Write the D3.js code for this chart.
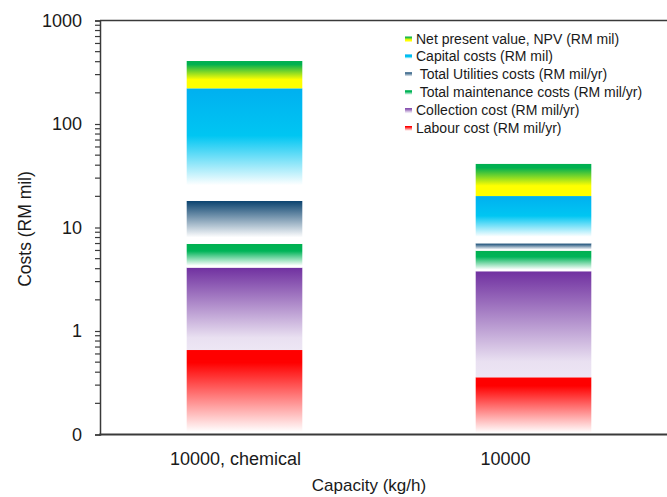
<!DOCTYPE html>
<html>
<head>
<meta charset="utf-8">
<script src="https://cdn.jsdelivr.net/npm/d3@7"></script>
<style>
  html, body { margin: 0; padding: 0; background: #fff; }
  svg text { font-family: "Liberation Sans", Arial, sans-serif; fill: #1a1a1a; }
  .legend text { white-space: pre; }
</style>
</head>
<body>
<svg id="chart" width="667" height="497"></svg>
<script>
// Capacity categories (kg/h)
const categories = ["10000, chemical", "10000"];

// Cost components per category (RM mil, RM mil/yr)
const labourCost      = [0.655, 0.357];
const collectionCost  = [3.44, 3.42];
const maintenanceCost = [2.85, 2.19];
const utilitiesCost   = [11.1, 1.06];
const capitalCost     = [203, 13.1];
const npvValue        = [185, 21];

const seriesKeys = ["labour", "collection", "maintenance", "utilities", "capital", "npv"];
const seriesNames = [
  "Labour cost (RM mil/yr)",
  "Collection cost (RM mil/yr)",
  " Total maintenance costs (RM mil/yr)",
  " Total Utilities costs (RM mil/yr)",
  "Capital costs (RM mil)",
  "Net present value, NPV (RM mil)"
];

// Y axis ticks (log decades)
const yTicks = [0.1, 1, 10, 100, 1000];

const rows = categories.map((c, i) => ({
  category: c,
  labour: labourCost[i],
  collection: collectionCost[i],
  maintenance: maintenanceCost[i],
  utilities: utilitiesCost[i],
  capital: capitalCost[i],
  npv: npvValue[i]
}));

// Fill gradients: saturated at the top of each segment, fading downwards
const gradients = {
  labour:      [[0, "#ff0000"], [0.15, "#ff0000"], [0.97, "#ffffff"]],
  collection:  [[0, "#7030a0"], [0.85, "#e9e0f1"], [1, "#ede6f4"]],
  maintenance: [[0, "#00b050"], [0.3, "#00b458"], [0.92, "#ffffff"]],
  utilities:   [[0, "#0b436f"], [0.85, "#ffffff"]],
  capital:     [[0, "#00b0f0"], [0.42, "#00c6f2"], [0.86, "#ffffff"]],
  npv:         [[0, "#00b050"], [0.12, "#00b050"], [0.68, "#ffff00"], [1, "#ffff00"]]
};

const svg = d3.select("#chart");
const margin = { left: 100, top: 20.5, bottom: 434.5 };
const plotRight = 678;

const defs = svg.append("defs");
seriesKeys.forEach(k => {
  const g = defs.append("linearGradient")
    .attr("id", "grad-" + k)
    .attr("x1", 0).attr("y1", 0).attr("x2", 0).attr("y2", 1);
  gradients[k].forEach(([o, c]) => g.append("stop").attr("offset", o).attr("stop-color", c));
});

const x = d3.scaleBand()
  .domain(categories)
  .range([margin.left, plotRight])
  .paddingInner(0.6)
  .paddingOuter(0.3);

const y = d3.scaleLog()
  .domain([0.1, 1000])
  .range([margin.bottom, margin.top]);

const stacked = d3.stack().keys(seriesKeys)(rows);

// Bars
const layers = svg.append("g").selectAll("g")
  .data(stacked)
  .join("g")
  .attr("fill", d => `url(#grad-${d.key})`);

layers.selectAll("rect")
  .data(d => d)
  .join("rect")
  .attr("x", d => x(d.data.category))
  .attr("width", x.bandwidth())
  .attr("y", d => y(d[1]))
  .attr("height", d => y(Math.max(d[0], 0.1)) - y(d[1]));

// Y axis with minor ticks in every decade
const minorTicks = [];
for (let e = -1; e < 3; e++) {
  for (let m = 2; m <= 9; m++) minorTicks.push(m * Math.pow(10, e));
}

const axisColor = "#3a3a3a";

const yAxis = svg.append("g")
  .attr("transform", `translate(${margin.left},0)`)
  .call(d3.axisLeft(y)
    .tickValues(yTicks)
    .tickFormat(d => d < 1 ? "0" : d3.format("d")(d))
    .tickSizeOuter(0)
    .tickSize(5)
    .tickPadding(13));
yAxis.select(".domain").attr("stroke", axisColor).attr("stroke-width", 1.5);
yAxis.selectAll(".tick line").attr("stroke", axisColor).attr("stroke-width", 1.2);
yAxis.selectAll(".tick text")
  .attr("font-size", 18)
  .attr("font-family", "Liberation Sans, Arial, sans-serif")
  .attr("fill", "#1a1a1a");

svg.append("g")
  .selectAll("line")
  .data(minorTicks)
  .join("line")
  .attr("x1", margin.left - 5).attr("x2", margin.left)
  .attr("y1", d => y(d)).attr("y2", d => y(d))
  .attr("stroke", axisColor).attr("stroke-width", 1.2);

// Top and bottom frame lines
svg.append("line")
  .attr("x1", margin.left).attr("x2", plotRight)
  .attr("y1", margin.top).attr("y2", margin.top)
  .attr("stroke", axisColor).attr("stroke-width", 1.5);
svg.append("line")
  .attr("x1", margin.left - 0.75).attr("x2", plotRight)
  .attr("y1", margin.bottom).attr("y2", margin.bottom)
  .attr("stroke", axisColor).attr("stroke-width", 2);

// Category labels
const labelShift = [-9, -28];
svg.append("g")
  .selectAll("text")
  .data(categories)
  .join("text")
  .attr("x", (d, i) => x(d) + x.bandwidth() / 2 + labelShift[i])
  .attr("y", 465)
  .attr("text-anchor", "middle")
  .attr("font-size", 18)
  .text(d => d);

// Axis titles
svg.append("text")
  .attr("x", 369).attr("y", 491)
  .attr("text-anchor", "middle")
  .attr("font-size", 17)
  .text("Capacity (kg/h)");

svg.append("text")
  .attr("transform", "translate(31,229) rotate(-90)")
  .attr("text-anchor", "middle")
  .attr("font-size", 17.5)
  .text("Costs (RM mil)");

// Legend (top entry is the top of the stack)
const legendOrder = seriesKeys.map((k, i) => ({ key: k, name: seriesNames[i] })).reverse();
const legend = svg.append("g").attr("class", "legend");
const rowsG = legend.selectAll("g")
  .data(legendOrder)
  .join("g")
  .attr("transform", (d, i) => `translate(405,${39 + i * 17.9})`);
rowsG.append("rect")
  .attr("x", 0).attr("y", -2.5)
  .attr("width", 7).attr("height", 5)
  .attr("fill", d => `url(#grad-${d.key})`);
rowsG.append("text")
  .attr("x", 11).attr("y", 4.5)
  .attr("font-size", 14)
  .text(d => d.name);
</script>
</body>
</html>
